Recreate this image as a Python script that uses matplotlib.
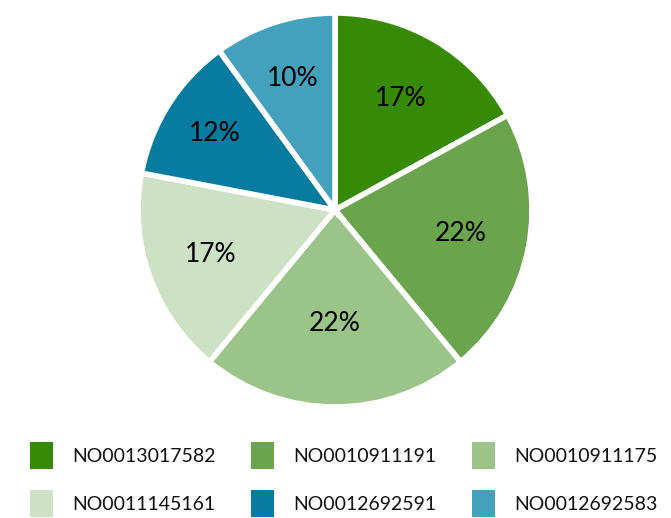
import matplotlib
matplotlib.use("Agg")
import matplotlib.pyplot as plt
import numpy as np
from matplotlib.patches import Rectangle

# data
isins = ["NO0013017582", "NO0010911191", "NO0010911175",
         "NO0011145161", "NO0012692591", "NO0012692583"]
shares = [17, 22, 22, 17, 12, 10]
colors = ["#368a06", "#6aa54e", "#9bc588", "#cde2c4", "#087ca0", "#44a1bd"]

plt.rcParams["font.family"] = ["Lato", "DejaVu Sans"]

W, H = 671, 518
cx, cy, R = 335, H - 210, 197
fig = plt.figure(figsize=(W / 100, H / 100), dpi=100)
ax = fig.add_axes([0, 0, 1, 1])
ax.axis("off")

wedges, texts, autotexts = ax.pie(
    shares, colors=colors, startangle=90, counterclock=False,
    center=(cx, cy), radius=R, autopct="%d%%", pctdistance=0.65,
    wedgeprops=dict(edgecolor="white", linewidth=4),
    textprops=dict(fontsize=19, color="black"))

# label placement inside each wedge (fraction of radius)
label_r = [0.655, 0.65, 0.575, 0.67, 0.72, 0.70]
for w, t, lr in zip(wedges, autotexts, label_r):
    ang = np.deg2rad((w.theta1 + w.theta2) / 2)
    t.set_position((cx + lr * R * np.cos(ang), cy + lr * R * np.sin(ang)))

ax.set_xlim(0, W)
ax.set_ylim(0, H)
ax.set_aspect("equal")

# legend, 3 columns x 2 rows (pixel coords from top)
col_x = [30, 251, 472]
row_y = [442, 490]
for i, (name, c) in enumerate(zip(isins, colors)):
    x = col_x[i % 3]
    y = row_y[i // 3]
    ax.add_patch(Rectangle((x, H - y - 27), 23, 27, facecolor=c,
                           edgecolor="none", clip_on=False))
    ax.text(x + 42, H - y - 14, name, fontsize=14, va="center", ha="left",
            color="#111111")

fig.savefig("out.png", dpi=100)
